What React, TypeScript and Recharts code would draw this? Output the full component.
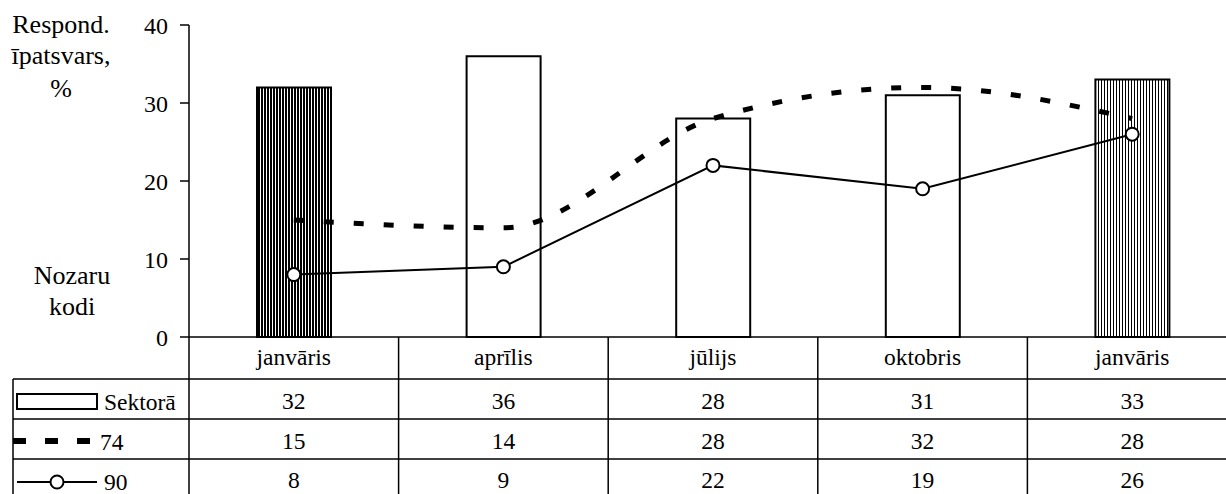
import React from 'react';
import {
  ComposedChart,
  Bar,
  Line,
  XAxis,
  YAxis,
  Cell,
  Customized,
} from 'recharts';

const months = ['janvāris', 'aprīlis', 'jūlijs', 'oktobris', 'janvāris'];
const sektora = [32, 36, 28, 31, 33];
const kods74 = [15, 14, 28, 32, 28];
const kods90 = [8, 9, 22, 19, 26];
const yTicks = [0, 10, 20, 30, 40];
const barFills = ['url(#dense)', '#fff', '#fff', '#fff', 'url(#light)'];

const FONT = 'Liberation Serif';
const CHART_W = 1237;
const CHART_H = 494;
const Y_AXIS_W = 189;
const X_AXIS_H = 157;
const BAND = (CHART_W - Y_AXIS_W) / months.length;

const data = months.map((m, i) => ({
  key: i,
  month: m,
  sektora: sektora[i],
  k74: kods74[i],
  k90: kods90[i],
}));

const txt = { fontFamily: FONT, fontSize: 23.5, fill: '#000' };
const LINE = { stroke: '#000', strokeWidth: 1.5 };

// category label + data table below the axis
const TableTick = (props: any) => {
  const { x, y, payload } = props;
  const i: number = payload?.index ?? props.index ?? 0;
  const left = x - BAND / 2;
  const right = x + BAND / 2;
  const r1 = y + 42;
  const r2 = y + 82;
  const r3 = y + 122;
  const bottom = CHART_H;
  return (
    <g>
      <text x={x} y={y + 28} textAnchor="middle" {...txt}>
        {months[i]}
      </text>
      <line x1={right} y1={y} x2={right} y2={bottom} {...LINE} />
      {[r1, r2, r3].map((ry) => (
        <line key={ry} x1={left} y1={ry} x2={right} y2={ry} {...LINE} />
      ))}
      <text x={x} y={r1 + 30} textAnchor="middle" {...txt}>{sektora[i]}</text>
      <text x={x} y={r2 + 30} textAnchor="middle" {...txt}>{kods74[i]}</text>
      <text x={x} y={r3 + 29} textAnchor="middle" {...txt}>{kods90[i]}</text>
      {i === 0 && (
        <g>
          <line x1={left} y1={y} x2={left} y2={bottom} {...LINE} />
          {[r1, r2, r3].map((ry) => (
            <line key={ry} x1={13} y1={ry} x2={left} y2={ry} {...LINE} />
          ))}
          <line x1={13} y1={r1} x2={13} y2={bottom} {...LINE} />
          {/* legend: Sektorā */}
          <rect x={17} y={r1 + 15} width={80} height={15} fill="#fff" stroke="#000" strokeWidth={2} />
          <text x={104} y={r1 + 31} {...txt}>Sektorā</text>
          {/* legend: 74 */}
          <line x1={13} y1={r2 + 22} x2={90} y2={r2 + 22} stroke="#000" strokeWidth={6} strokeDasharray="13 19" />
          <text x={100} y={r2 + 31} {...txt}>74</text>
          {/* legend: 90 */}
          <line x1={17} y1={r3 + 23} x2={97} y2={r3 + 23} stroke="#000" strokeWidth={2} />
          <circle cx={57} cy={r3 + 23} r={6.5} fill="#fff" stroke="#000" strokeWidth={2} />
          <text x={104} y={r3 + 31} {...txt}>90</text>
        </g>
      )}
    </g>
  );
};

const SideLabels = () => (
  <g>
    <text x={61} y={33} textAnchor="middle" {...txt} fontSize={26}>Respond.</text>
    <text x={61} y={64} textAnchor="middle" {...txt} fontSize={26}>īpatsvars,</text>
    <text x={61} y={97} textAnchor="middle" {...txt} fontSize={26}>%</text>
    <text x={72} y={284} textAnchor="middle" {...txt} fontSize={26}>Nozaru</text>
    <text x={72} y={315} textAnchor="middle" {...txt} fontSize={26}>kodi</text>
  </g>
);

export default function App() {
  return (
    <div
      style={{
        position: 'absolute',
        left: 0,
        top: 0,
        width: 1226,
        height: CHART_H,
        overflow: 'hidden',
        background: '#fff',
      }}
    >
      <ComposedChart
        width={CHART_W}
        height={CHART_H}
        data={data}
        margin={{ top: 25, right: 0, bottom: 0, left: 0 }}
      >
        <defs>
          <pattern id="dense" width={3} height={10} patternUnits="userSpaceOnUse">
            <rect width={3} height={10} fill="#fff" />
            <rect width={2} height={10} fill="#000" />
          </pattern>
          <pattern id="light" width={3} height={10} patternUnits="userSpaceOnUse">
            <rect width={3} height={10} fill="#fff" />
            <rect width={1} height={10} fill="#000" />
          </pattern>
        </defs>
        <XAxis
          dataKey="key"
          height={X_AXIS_H}
          interval={0}
          tickLine={false}
          tickSize={0}
          tickMargin={0}
          axisLine={LINE}
          tick={<TableTick />}
        />
        <YAxis
          width={Y_AXIS_W}
          domain={[0, 40]}
          ticks={yTicks}
          interval={0}
          tickSize={9}
          tickMargin={12}
          axisLine={LINE}
          tickLine={LINE}
          tick={{ ...txt, fontSize: 24 }}
        />
        <Bar dataKey="sektora" barSize={74} stroke="#000" strokeWidth={2} isAnimationActive={false}>
          {data.map((d, i) => (
            <Cell key={i} fill={barFills[i]} />
          ))}
        </Bar>
        <Line
          dataKey="k74"
          type="monotone"
          stroke="#000"
          strokeWidth={5}
          strokeDasharray="10 20"
          dot={false}
          activeDot={false}
          isAnimationActive={false}
        />
        <Line
          dataKey="k90"
          type="linear"
          stroke="#000"
          strokeWidth={2}
          dot={{ r: 6.5, fill: '#fff', stroke: '#000', strokeWidth: 2 }}
          activeDot={false}
          isAnimationActive={false}
        />
        <Customized component={<SideLabels />} />
      </ComposedChart>
    </div>
  );
}
